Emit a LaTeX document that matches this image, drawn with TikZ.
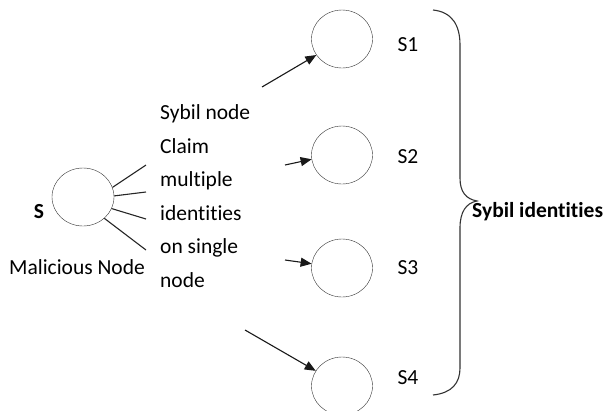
\documentclass[tikz,border=0pt]{standalone}
\usepackage{fontspec}
\setmainfont{Carlito}[Ligatures={NoCommon}]
\usetikzlibrary{shapes.geometric,arrows.meta}
\begin{document}
\begin{tikzpicture}[x=1pt,y=-1pt,
  font=\fontsize{21.5}{33.5}\selectfont,
  idnode/.style={draw=black!80,ellipse,minimum width=61pt,minimum height=58pt,inner sep=0pt},
  claim/.style={draw=black!90,line width=1.1pt,-{Triangle[length=11pt,width=9pt]}},
  ray/.style={draw=black!85,line width=1.1pt}]
  \useasboundingbox (0,0) rectangle (613,410);
  % malicious node
  \path (83,197) node[idnode,minimum width=62pt] (mal) {};
  \path (39,212) node (s) {\textbf{S}};
  \path (77,267) node (maltext) {Malicious Node};
  \path (160,196) node[anchor=west,align=left,inner sep=0pt] (claimtext)
    {Sybil node\\Claim\\multiple\\identities\\on single\\node};
  \coordinate (r1) at (146,165);
  \coordinate (r2) at (146,192);
  \coordinate (r3) at (146,219);
  \coordinate (r4) at (146,250);
  \draw[ray] (mal.18) -- (r1);
  \draw[ray] (mal.2) -- (r2);
  \draw[ray] (mal.-22) -- (r3);
  \draw[ray] (mal.-45) -- (r4);
  % sybil identities
  \path (342,39) node[idnode] (s1) {};
  \path (342,155) node[idnode] (s2) {};
  \path (342,268) node[idnode] (s3) {};
  \path (342,386) node[idnode] (s4) {};
  \path (408,45) node (l1) {S1};
  \path (408,157) node (l2) {S2};
  \path (408,268) node (l3) {S3};
  \path (408,378) node (l4) {S4};
  \coordinate (a1) at (262,87);
  \coordinate (a2) at (285,165);
  \coordinate (a3) at (285,260);
  \coordinate (a4) at (245,330);
  \draw[claim] (a1) -- (s1.-148);
  \draw[claim] (a2) -- (s2.-172);
  \draw[claim] (a3) -- (s3.172);
  \draw[claim] (a4) -- (s4.150);
  % brace
  \draw[black!80,line width=1.1pt] (433,10) .. controls (452,12) and (460,25) .. (460,45)
    -- (460,178) .. controls (460,192) and (466,199) .. (477,201)
    .. controls (466,203) and (460,212) .. (460,228)
    -- (460,368) .. controls (460,383) and (452,393) .. (433,395);
  \path (472,212) node[anchor=west,inner sep=0pt] (sybil) {\textbf{Sybil identities}};
\end{tikzpicture}
\end{document}
